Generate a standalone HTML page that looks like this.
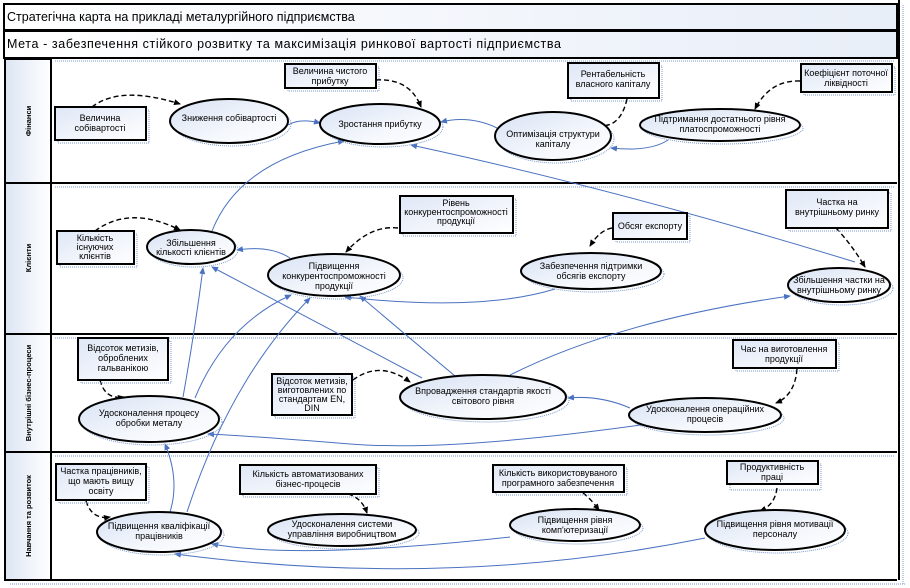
<!DOCTYPE html>
<html><head><meta charset="utf-8"><style>
html,body{margin:0;padding:0;background:#fff;}
svg{display:block;}
text{font-family:"Liberation Sans",sans-serif;font-size:9px;fill:#000;text-anchor:middle;}
.lane{font-weight:bold;font-size:7.5px;}
.t{font-size:12.5px;text-anchor:start;}
.e{stroke:#000;stroke-width:2;fill:url(#g);}
.b{stroke:#000;stroke-width:2;fill:url(#gb);}
.d{fill:none;stroke:#000;stroke-width:1.4;stroke-dasharray:5,3;}
.c{fill:none;stroke:#4a72c0;stroke-width:1;}
.s{fill:none;stroke:#7a9ad0;stroke-width:1;stroke-dasharray:1,1;}
</style></head><body>
<svg width="910" height="588" viewBox="0 0 910 588" xmlns="http://www.w3.org/2000/svg">
<defs>
<linearGradient id="g" x1="0" y1="0" x2="1" y2="1"><stop offset="0" stop-color="#d8e2f4"/><stop offset="0.6" stop-color="#f4f7fc"/><stop offset="1" stop-color="#ffffff"/></linearGradient>
<linearGradient id="gb" x1="0" y1="0" x2="1" y2="1"><stop offset="0" stop-color="#dfe7f6"/><stop offset="1" stop-color="#ffffff"/></linearGradient>
<linearGradient id="gl" x1="0" y1="0" x2="1" y2="0"><stop offset="0" stop-color="#dde5f4"/><stop offset="1" stop-color="#ffffff"/></linearGradient>
<linearGradient id="gh" x1="0" y1="0" x2="1" y2="0"><stop offset="0" stop-color="#ffffff"/><stop offset="1" stop-color="#e8eef8"/></linearGradient>
<marker id="a" markerWidth="7" markerHeight="6" refX="6" refY="3" orient="auto" markerUnits="userSpaceOnUse"><path d="M0,0 L7,3 L0,6 z" fill="#4a72c0"/></marker>
<marker id="k" markerWidth="7" markerHeight="6" refX="6" refY="3" orient="auto" markerUnits="userSpaceOnUse"><path d="M0,0 L7,3 L0,6 z" fill="#000"/></marker>
</defs>

<rect x="4" y="4" width="893" height="26" fill="url(#gh)" stroke="#000" stroke-width="2"/>
<text class="t" x="7" y="21">Стратегічна карта на прикладі металургійного підприємства</text>
<rect x="4" y="31" width="893" height="27" fill="url(#gh)" stroke="#000" stroke-width="2"/>
<text class="t" x="7" y="48" style="letter-spacing:0.6px">Мета - забезпечення стійкого розвитку та максимізація ринкової вартості підприємства</text>

<rect x="5" y="59" width="46" height="521" fill="url(#gl)" stroke="#000" stroke-width="2"/>
<line x1="51" y1="59" x2="51" y2="580" stroke="#000" stroke-width="2"/>
<line x1="899" y1="0" x2="899" y2="580" stroke="#000" stroke-width="2"/>
<line x1="5" y1="183" x2="897" y2="183" stroke="#000" stroke-width="2"/>
<line x1="5" y1="334" x2="897" y2="334" stroke="#000" stroke-width="2"/>
<line x1="5" y1="452" x2="897" y2="452" stroke="#000" stroke-width="2"/>
<line x1="5" y1="580" x2="897" y2="580" stroke="#000" stroke-width="2"/>
<g class="s"><line x1="55" y1="61" x2="895" y2="61"/><line x1="55" y1="187" x2="895" y2="187"/><line x1="55" y1="338" x2="895" y2="338"/><line x1="55" y1="456" x2="895" y2="456"/><line x1="10" y1="584" x2="905" y2="584"/><line x1="903" y1="5" x2="903" y2="584"/></g>
<text class="lane" transform="translate(31,121) rotate(-90)">Фінанси</text>
<text class="lane" transform="translate(31,258) rotate(-90)">Клієнти</text>
<text class="lane" transform="translate(31,393) rotate(-90)">Внутрішні бізнес-процеси</text>
<text class="lane" transform="translate(31,516) rotate(-90)">Навчання та розвиток</text>

<g class="c">
<path d="M288,125 Q300,118 320,123" marker-end="url(#a)"/>
<path d="M497,128 Q470,115 441,122" marker-end="url(#a)"/>
<path d="M668,140 Q650,152 611,148" marker-end="url(#a)"/>
<path d="M212,231 Q240,160 344,141" marker-end="url(#a)"/>
<path d="M855,262 Q620,190 411,145" marker-end="url(#a)"/>
<path d="M290,258 Q270,245 237,250" marker-end="url(#a)"/>
<path d="M422,378 L212,267" marker-end="url(#a)"/>
<path d="M183,397 Q195,330 203,268" marker-end="url(#a)"/>
<path d="M195,398 Q225,325 291,295" marker-end="url(#a)"/>
<path d="M555,289 Q480,312 345,297" marker-end="url(#a)"/>
<path d="M455,376 Q400,330 360,296" marker-end="url(#a)"/>
<path d="M510,375 Q620,320 790,296" marker-end="url(#a)"/>
<path d="M630,408 Q600,395 568,398" marker-end="url(#a)"/>
<path d="M648,424 Q450,452 350,444 Q250,436 208,434" marker-end="url(#a)"/>
<path d="M170,512 Q180,480 165,444" marker-end="url(#a)"/>
<path d="M187,512 Q230,380 310,298" marker-end="url(#a)"/>
<path d="M510,537 Q300,560 212,544" marker-end="url(#a)"/>
<path d="M705,538 Q450,590 175,554" marker-end="url(#a)"/>
</g>

<g class="d">
<path d="M92,107 Q120,85 180,104" marker-end="url(#k)"/>
<path d="M376,80 Q410,78 421,107" marker-end="url(#k)"/>
<path d="M627,99 Q620,130 596,125" marker-end="url(#k)"/>
<path d="M800,81 Q770,80 755,109" marker-end="url(#k)"/>
<path d="M95,231 Q130,205 180,230" marker-end="url(#k)"/>
<path d="M398,228 Q370,225 346,252" marker-end="url(#k)"/>
<path d="M612,228 Q600,230 590,246" marker-end="url(#k)"/>
<path d="M836,228 Q852,245 865,267" marker-end="url(#k)"/>
<path d="M100,380 Q105,400 124,397" marker-end="url(#k)"/>
<path d="M353,380 Q380,360 410,382" marker-end="url(#k)"/>
<path d="M797,369 Q795,395 776,403" marker-end="url(#k)"/>
<path d="M86,501 Q92,520 110,517" marker-end="url(#k)"/>
<path d="M348,494 Q362,498 367,513" marker-end="url(#k)"/>
<path d="M583,493 Q590,498 599,510" marker-end="url(#k)"/>
<path d="M777,488 Q775,505 760,511" marker-end="url(#k)"/>
</g>

<g class="s">
<rect x="58" y="110" width="91" height="33"/><rect x="288" y="67" width="91" height="24"/><rect x="571" y="66" width="91" height="35"/><rect x="804" y="67" width="91" height="28"/>
<rect x="60" y="234" width="77" height="33"/><rect x="403" y="199" width="113" height="37"/><rect x="616" y="216" width="74" height="26"/><rect x="789" y="193" width="102" height="38"/>
<rect x="81" y="341" width="90" height="42"/><rect x="275" y="377" width="80" height="41"/><rect x="736" y="343" width="103" height="28"/>
<rect x="59" y="467" width="90" height="36"/><rect x="243" y="468" width="136" height="29"/><rect x="496" y="468" width="131" height="27"/><rect x="730" y="464" width="91" height="26"/>
<ellipse cx="232" cy="124" rx="59" ry="22"/><ellipse cx="383" cy="127" rx="60" ry="20"/><ellipse cx="556" cy="139" rx="58" ry="24"/><ellipse cx="723" cy="128" rx="80" ry="16"/>
<ellipse cx="194" cy="250" rx="44" ry="17"/><ellipse cx="337" cy="278" rx="66" ry="21"/><ellipse cx="594" cy="274" rx="70" ry="18"/><ellipse cx="842" cy="288" rx="51" ry="17"/>
<ellipse cx="152" cy="422" rx="70" ry="23"/><ellipse cx="486" cy="400" rx="83" ry="22"/><ellipse cx="708" cy="418" rx="76" ry="17"/>
<ellipse cx="162" cy="535" rx="62" ry="20"/><ellipse cx="345" cy="533" rx="74" ry="16"/><ellipse cx="578" cy="528" rx="65" ry="16"/><ellipse cx="778" cy="533" rx="70" ry="20"/>
</g>

<rect class="b" x="55" y="107" width="91" height="33"/><text x="100" y="121">Величина</text><text x="100" y="131">собівартості</text>
<rect class="b" x="285" y="64" width="91" height="24"/><text x="330" y="74">Величина чистого</text><text x="330" y="84">прибутку</text>
<rect class="b" x="568" y="63" width="91" height="35"/><text x="613" y="77">Рентабельність</text><text x="613" y="87">власного капіталу</text>
<rect class="b" x="801" y="64" width="91" height="28"/><text x="846" y="76">Коефіцієнт поточної</text><text x="846" y="86">ліквідності</text>

<rect class="b" x="57" y="231" width="77" height="33"/><text x="95" y="241">Кількість</text><text x="95" y="250">існуючих</text><text x="95" y="259">клієнтів</text>
<rect class="b" x="400" y="196" width="113" height="37"/><text x="456" y="206">Рівень</text><text x="456" y="215">конкурентоспроможності</text><text x="456" y="224">продукції</text>
<rect class="b" x="613" y="213" width="74" height="26"/><text x="650" y="229">Обсяг експорту</text>
<rect class="b" x="786" y="190" width="102" height="38"/><text x="837" y="205">Частка на</text><text x="837" y="215">внутрішньому ринку</text>

<rect class="b" x="78" y="338" width="90" height="42"/><text x="123" y="351">Відсоток метизів,</text><text x="123" y="361">оброблених</text><text x="123" y="371">гальванікою</text>
<rect class="b" x="272" y="374" width="80" height="41"/><text x="312" y="384">Відсоток метизів,</text><text x="312" y="393">виготовлених по</text><text x="312" y="402">стандартам EN,</text><text x="312" y="411">DIN</text>
<rect class="b" x="733" y="340" width="103" height="28"/><text x="784" y="352">Час на виготовлення</text><text x="784" y="362">продукції</text>

<rect class="b" x="56" y="464" width="90" height="36"/><text x="101" y="474">Частка працівників,</text><text x="101" y="484">що мають вищу</text><text x="101" y="494">освіту</text>
<rect class="b" x="240" y="465" width="136" height="29"/><text x="308" y="477">Кількість автоматизованих</text><text x="308" y="487">бізнес-процесів</text>
<rect class="b" x="493" y="465" width="131" height="27"/><text x="558" y="476">Кількість використовуваного</text><text x="558" y="486">програмного забезпечення</text>
<rect class="b" x="727" y="461" width="91" height="23"/><text x="772" y="470">Продуктивність</text><text x="772" y="480">праці</text>

<ellipse class="e" cx="229" cy="121" rx="59" ry="22"/><text x="229" y="121">Зниження собівартості</text>
<ellipse class="e" cx="380" cy="124" rx="60" ry="20"/><text x="380" y="127">Зростання прибутку</text>
<ellipse class="e" cx="553" cy="136" rx="58" ry="24"/><text x="553" y="137">Оптимізація структури</text><text x="553" y="147">капіталу</text>
<ellipse class="e" cx="720" cy="125" rx="80" ry="16"/><text x="720" y="122">Підтримання достатнього рівня</text><text x="720" y="132">платоспроможності</text>

<ellipse class="e" cx="191" cy="247" rx="44" ry="17"/><text x="191" y="246">Збільшення</text><text x="191" y="255">кількості клієнтів</text>
<ellipse class="e" cx="334" cy="275" rx="66" ry="21"/><text x="334" y="269">Підвищення</text><text x="334" y="279">конкурентоспроможності</text><text x="334" y="289">продукції</text>
<ellipse class="e" cx="591" cy="271" rx="70" ry="18"/><text x="591" y="269">Забезпечення підтримки</text><text x="591" y="279">обсягів експорту</text>
<ellipse class="e" cx="839" cy="285" rx="51" ry="17"/><text x="839" y="283">Збільшення частки на</text><text x="839" y="293">внутрішньому ринку</text>

<ellipse class="e" cx="149" cy="419" rx="70" ry="23"/><text x="149" y="416">Удосконалення процесу</text><text x="149" y="426">обробки металу</text>
<ellipse class="e" cx="483" cy="397" rx="83" ry="22"/><text x="483" y="394">Впровадження стандартів якості</text><text x="483" y="404">світового рівня</text>
<ellipse class="e" cx="705" cy="415" rx="76" ry="17"/><text x="705" y="412">Удосконалення операційних</text><text x="705" y="422">процесів</text>

<ellipse class="e" cx="159" cy="532" rx="62" ry="20"/><text x="159" y="529">Підвищення кваліфікації</text><text x="159" y="539">працівників</text>
<ellipse class="e" cx="342" cy="530" rx="74" ry="16"/><text x="342" y="527">Удосконалення системи</text><text x="342" y="537">управління виробництвом</text>
<ellipse class="e" cx="575" cy="525" rx="65" ry="16"/><text x="575" y="523">Підвищення рівня</text><text x="575" y="533">комп'ютеризації</text>
<ellipse class="e" cx="775" cy="530" rx="70" ry="20"/><text x="775" y="527">Підвищення рівня мотивації</text><text x="775" y="537">персоналу</text>
</svg>
</body></html>
